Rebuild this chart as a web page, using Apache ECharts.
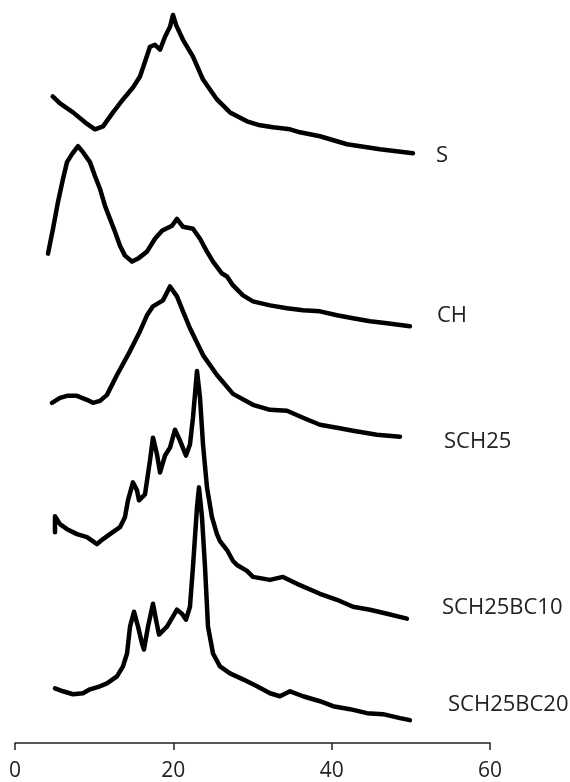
<!DOCTYPE html>
<html>
<head>
<meta charset="utf-8">
<script src="https://cdn.jsdelivr.net/npm/echarts@6/dist/echarts.min.js"></script>
<style>
html,body{margin:0;padding:0;background:#fff;}
#chart{width:570px;height:782px;}
</style>
</head>
<body>
<div id="chart"></div>
<script>
// 2θ (degrees) and stacked intensity (a.u., offset per pattern)
var xTicks = [0, 20, 40, 60];
var seriesNames = ['S', 'CH', 'SCH25', 'SCH25BC10', 'SCH25BC20'];

var xS = [4.76,5.68,7.33,8.84,10.10,11.12,12.38,13.64,14.90,15.79,16.42,17.05,17.68,18.32,18.95,19.58,19.96,20.34,21.22,22.48,23.75,25.51,27.16,29.30,30.95,32.59,34.74,36.0,38.52,41.94,46.10,50.27];
var yS = [650,643,634,624,617,620,634,647,659,670,685,700,702,697,710,720,732,722,707,690,667,647,634,625,621,619,617,614,610,602,597,593];

var xCH = [4.17,4.80,5.43,6.06,6.57,7.20,7.96,8.59,9.47,10.10,10.74,11.37,12.00,12.63,13.26,13.89,14.78,15.54,16.67,17.68,18.57,19.83,20.46,21.22,22.48,23.37,24.25,25.01,26.15,26.78,27.54,28.80,30.06,32.21,34.36,36.38,38.52,40.67,42.69,44.84,46.99,49.89];
var yCH = [492,517,544,567,584,592,600,594,584,570,557,540,527,514,500,490,484,487,494,507,515,520,527,519,517,507,494,484,472,469,460,450,444,440,437,435,434,430,427,424,422,419];

var xSCH25 = [4.67,5.68,6.57,7.83,9.09,9.85,10.74,11.62,12.88,14.53,15.79,16.67,17.43,18.69,19.58,20.46,21.22,22.10,23.75,25.51,27.54,30.06,32.21,34.36,36.38,38.52,40.67,42.69,45.72,48.63];
var ySCH25 = [342,347,349,349,345,342,344,350,370,394,414,430,439,445,459,449,434,417,390,370,351,340,335,334,327,320,317,314,310,308];

var xBC10 = [5.05,5.05,5.68,6.57,7.83,9.09,10.36,11.12,12.00,13.26,13.89,14.27,14.90,15.41,15.66,16.42,17.05,17.43,17.94,18.32,18.95,19.58,20.21,20.84,21.60,22.10,22.48,22.99,23.37,23.75,24.25,24.88,25.51,25.89,26.78,27.54,28.04,29.30,30.06,32.21,33.85,35.62,38.52,40.67,42.69,44.84,46.99,49.51];
var yBC10 = [212,228,220,215,210,207,200,205,210,217,227,244,262,254,244,250,284,307,290,272,289,297,315,304,289,300,327,374,347,300,257,227,210,203,194,183,179,173,167,164,167,160,150,144,137,134,130,125];

var xBC20 = [5.05,6.06,7.33,8.59,9.47,10.74,11.62,12.88,13.64,14.15,14.53,15.03,15.54,16.04,16.29,16.80,17.43,17.81,18.19,19.20,20.46,21.09,21.60,22.10,22.48,22.99,23.24,23.62,24.00,24.38,25.01,25.89,27.16,28.80,30.57,32.21,33.47,34.74,36.38,38.52,40.17,42.31,44.46,46.48,48.63,49.89];
var yBC20 = [55,52,49,50,54,57,60,67,77,90,117,132,117,100,94,117,140,124,109,117,134,130,124,137,177,237,257,227,177,117,90,77,70,64,57,50,47,52,47,42,37,34,30,29,25,23];

function pairs(xs, ys){ return xs.map(function(x,i){ return [x, ys[i]]; }); }

var chart = echarts.init(document.getElementById('chart'), null, {renderer:'canvas'});
var lineStyle = {color:'#000', width:4.5, join:'round', cap:'round'};
var dataSets = [[xS,yS],[xCH,yCH],[xSCH25,ySCH25],[xBC10,yBC10],[xBC20,yBC20]];
var labelPos = [[436,155],[437,315],[444,441],[442,607],[448,704]];

chart.setOption({
  animation:false,
  backgroundColor:'#fff',
  grid:{left:15, right:80, top:0, bottom:35, containLabel:false},
  xAxis:{
    type:'value', min:0, max:60, interval:20,
    axisLine:{show:true, onZero:false, lineStyle:{color:'#222', width:1.5}},
    axisTick:{show:true, inside:false, length:7, lineStyle:{color:'#222', width:1.5}},
    axisLabel:{show:true, margin:18, fontSize:21, color:'#222', fontFamily:'Open Sans',
      formatter:function(v){ return xTicks.indexOf(v) >= 0 ? String(v) : ''; }},
    splitLine:{show:false}
  },
  yAxis:{type:'value', min:0, max:747, show:false, splitLine:{show:false}},
  series: dataSets.map(function(d,i){
    return {name:seriesNames[i], type:'line', data:pairs(d[0],d[1]), showSymbol:false, symbol:'none', smooth:false, lineStyle:lineStyle};
  }),
  graphic: seriesNames.map(function(n,i){
    return {type:'text', left:labelPos[i][0], top:labelPos[i][1]-10,
      style:{text:n, fontSize:22, fontFamily:'Open Sans', fill:'#222'}};
  })
});
</script>
</body>
</html>
